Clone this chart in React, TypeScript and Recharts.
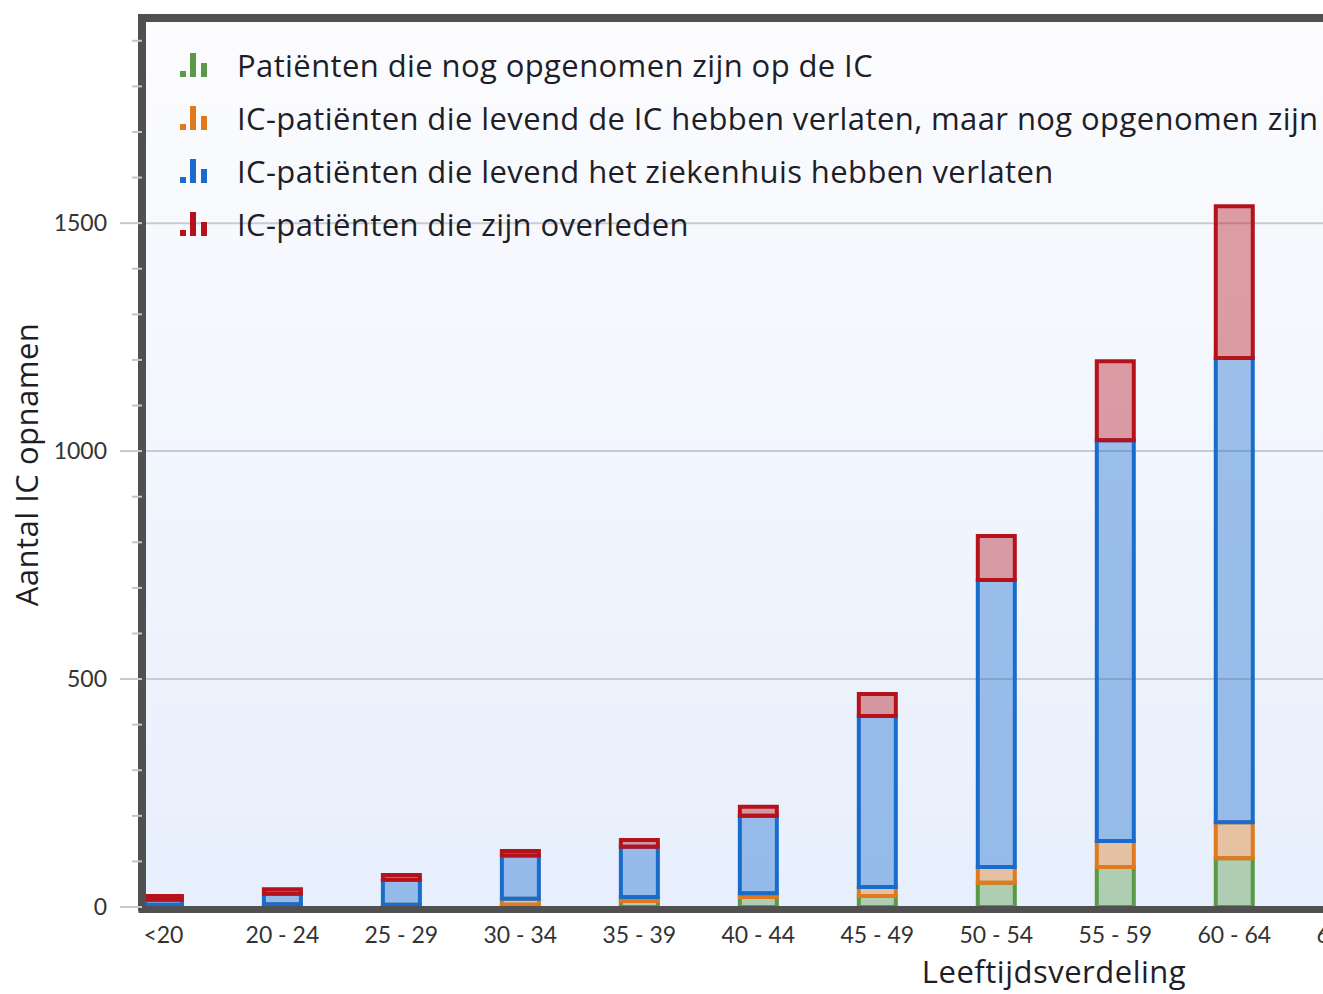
import React from 'react';
import { BarChart, Bar, XAxis, YAxis, CartesianGrid, ReferenceLine, Legend } from 'recharts';

const ageLabels = ['<20', '20 - 24', '25 - 29', '30 - 34', '35 - 39', '40 - 44', '45 - 49', '50 - 54', '55 - 59', '60 - 64', '65 - 69'];
const stillOnIC = [1, 1, 1, 5, 13, 22, 24, 53, 88, 107];
const leftICInHospital = [4, 5, 4, 13, 9, 8, 20, 35, 57, 79];
const leftHospital = [11, 23, 55, 95, 110, 170, 375, 629, 879, 1018];
const deceased = [8, 10, 10, 10, 15, 20, 48, 97, 173, 333];
const yTicks = [0, 100, 200, 300, 400, 500, 600, 700, 800, 900, 1000, 1100, 1200, 1300, 1400, 1500, 1600, 1700, 1800, 1900];
const gridValues = [500, 1000, 1500];

const series = [
  { key: 'stillOnIC', name: 'Patiënten die nog opgenomen zijn op de IC', color: '#5a9a46' },
  { key: 'leftICInHospital', name: 'IC-patiënten die levend de IC hebben verlaten, maar nog opgenomen zijn in het ziekenhuis', color: '#e07a1c' },
  { key: 'leftHospital', name: 'IC-patiënten die levend het ziekenhuis hebben verlaten', color: '#1a6ccc' },
  { key: 'deceased', name: 'IC-patiënten die zijn overleden', color: '#b5121b' },
];

const data = stillOnIC.map((v, i) => ({
  idx: i,
  label: ageLabels[i],
  stillOnIC: v,
  leftICInHospital: leftICInHospital[i],
  leftHospital: leftHospital[i],
  deceased: deceased[i],
}));

const TICK_FONT = 'Lato, "Open Sans", sans-serif';
const TITLE_FONT = '"Open Sans", Lato, sans-serif';
const FRAME = '#505050';

const YTick = (props: any) => {
  const { x, y, payload } = props;
  const major = payload.value % 500 === 0;
  return (
    <g>
      <line x1={x - (major ? 22 : 10)} x2={x} y1={y} y2={y} stroke={major ? '#c6c9d0' : '#c4c4c4'} strokeWidth={2} />
      {major && (
        <text x={x - 35} y={y} dy="0.36em" textAnchor="end" fontSize={23} fill="#333" fontFamily={TICK_FONT}>
          {payload.value}
        </text>
      )}
    </g>
  );
};

const renderLegend = () => (
  <div style={{ fontFamily: TITLE_FONT, fontSize: 31, letterSpacing: 0.4, color: '#1e1e28' }}>
    {series.map((s) => (
      <div key={s.key} style={{ position: 'relative', height: 53, lineHeight: '53px', whiteSpace: 'nowrap' }}>
        <svg width={28} height={24} style={{ position: 'absolute', left: 0, top: 14 }}>
          <rect x={0} y={18} width={6} height={6} fill={s.color} />
          <rect x={10} y={0} width={6} height={24} fill={s.color} />
          <rect x={21} y={10} width={6} height={14} fill={s.color} />
        </svg>
        <span style={{ marginLeft: 57 }}>{s.name}</span>
      </div>
    ))}
  </div>
);

const YLabel = (props: any) => {
  const vb = props.viewBox || { x: 0, y: 0, width: 0, height: 0 };
  const cx = vb.x + 27;
  const cy = vb.y + vb.height / 2 + 2;
  return (
    <text x={cx} y={cy} transform={`rotate(-90, ${cx}, ${cy})`} textAnchor="middle" dy="0.35em" fontSize={31} letterSpacing={0.5} fill="#1e1e28" fontFamily={TITLE_FONT}>
      Aantal IC opnamen
    </text>
  );
};

export default function App() {
  return (
    <div style={{ position: 'fixed', left: 0, top: 0, width: 1323, height: 994, overflow: 'hidden', background: '#fff' }}>
      <BarChart width={1966} height={994} data={data} margin={{ top: 18, right: 0, bottom: 0, left: 0 }} barSize={37}>
        <defs>
          <linearGradient id="plotBg" x1="0" y1="0" x2="0" y2="1">
            <stop offset="0%" stopColor="#fcfcfe" />
            <stop offset="100%" stopColor="#e7effc" />
          </linearGradient>
        </defs>
        <CartesianGrid vertical={false} horizontalValues={gridValues} stroke="#c8cbd3" strokeWidth={2} fill="url(#plotBg)" />
        <XAxis
          type="number"
          dataKey="idx"
          domain={[-0.18, 15.15]}
          ticks={ageLabels.map((_, i) => i)}
          interval={0}
          tickFormatter={(i: number) => ageLabels[i]}
          height={87}
          tickSize={0}
          tickMargin={20}
          tickLine={false}
          tick={{ fontSize: 23, fill: '#333', fontFamily: TICK_FONT }}
          axisLine={{ stroke: FRAME, strokeWidth: 7, strokeLinecap: 'square', transform: 'translate(0, 2.5)' }}
          allowDataOverflow
          label={{ value: 'Leeftijdsverdeling', position: 'insideBottom', offset: 11, fontSize: 31, letterSpacing: 0.5, fill: '#1e1e28', fontFamily: TITLE_FONT }}
        />
        <YAxis
          type="number"
          domain={[0, 1950]}
          ticks={yTicks}
          interval={0}
          width={142}
          tick={<YTick />}
          tickLine={false}
          tickSize={0}
          tickMargin={0}
          axisLine={{ stroke: FRAME, strokeWidth: 8, strokeLinecap: 'square' }}
          allowDataOverflow
          label={<YLabel />}
        />
        <ReferenceLine y={1950} stroke={FRAME} strokeWidth={8} />
        <Legend
          content={renderLegend}
          layout="vertical"
          align="center"
          verticalAlign="middle"
          width={1700}
          wrapperStyle={{ left: 180, top: 39, width: 1700 }}
        />
        {series.map((s) => (
          <Bar
            key={s.key}
            dataKey={s.key}
            name={s.name}
            stackId="a"
            fill={s.color}
            fillOpacity={0.4}
            stroke={s.color}
            strokeWidth={4}
            isAnimationActive={false}
          />
        ))}
      </BarChart>
    </div>
  );
}
